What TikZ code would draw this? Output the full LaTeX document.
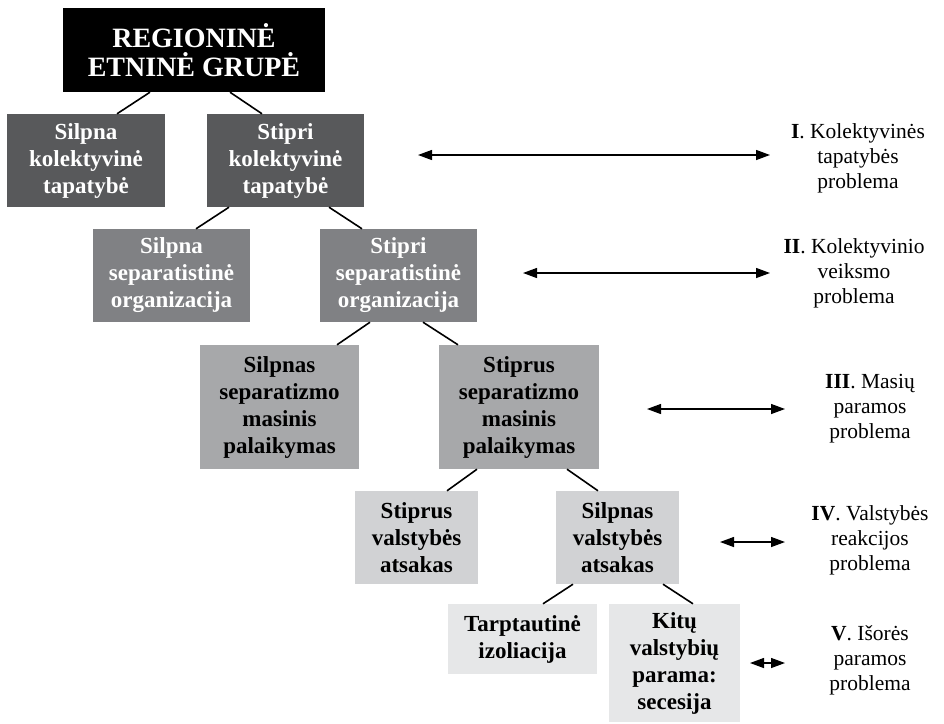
\documentclass[tikz,border=0pt]{standalone}
\usepackage{fontspec}
\setmainfont{Liberation Serif}
\usetikzlibrary{arrows.meta}
\usetikzlibrary{calc}
\definecolor{shadeone}{RGB}{88,89,91}
\definecolor{shadetwo}{RGB}{128,129,132}
\definecolor{shadethree}{RGB}{167,168,170}
\definecolor{shadefour}{RGB}{209,210,212}
\definecolor{shadefive}{RGB}{230,231,232}
\tikzset{blk/.style = {rectangle, inner sep = 0, align = center,
    font = \bfseries\fontsize{23}{27}\selectfont},
  size/.style 2 args = {minimum width = #1, minimum height = #2},
  top/.style = {blk, fill = black, text = white,
    font = \bfseries\fontsize{28}{29.5}\selectfont},
  lvlone/.style = {blk, fill = shadeone, text = white},
  lvltwo/.style = {blk, fill = shadetwo, text = white},
  lvlthree/.style = {blk, fill = shadethree},
  lvlfour/.style = {blk, fill = shadefour},
  lvlfive/.style = {blk, fill = shadefive},
  conn/.style = {line width = 1.6pt},
  twoway/.style = {line width = 1.3pt,
    {Triangle[length = 14pt, width = 10pt]}-{Triangle[length = 14pt, width = 10pt]}},
  problem/.style = {align = center, inner sep = 0,
    font = \fontsize{21.5}{25}\selectfont}}
\begin{document}
\begin{tikzpicture}[x = 1pt, y = -1pt]
      \useasboundingbox (0, 0) rectangle (944, 723);

      \node [top, size = {262pt}{84pt}] (grp) at (194, 50) {REGIONINĖ\\ETNINĖ GRUPĖ};

      \node [lvlone, size = {158pt}{93pt}] (kolsilp) at (86, 160.5) {Silpna\\kolektyvinė\\tapatybė};
      \node [lvlone, size = {157pt}{93pt}] (kolstip) at (285.5, 160.5) {Stipri\\kolektyvinė\\tapatybė};

      \node [lvltwo, size = {157pt}{93pt}] (orgsilp) at (171.5, 275.5) {Silpna\\separatistinė\\organizacija};
      \node [lvltwo, size = {157pt}{93pt}] (orgstip) at (398.5, 275.5) {Stipri\\separatistinė\\organizacija};

      \node [lvlthree, size = {159pt}{124pt}] (massilp) at (279.5, 407) {Silpnas\\separatizmo\\masinis\\palaikymas};
      \node [lvlthree, size = {160pt}{124pt}] (masstip) at (519, 407) {Stiprus\\separatizmo\\masinis\\palaikymas};

      \node [lvlfour, size = {123pt}{93pt}] (valstip) at (416.5, 537.5) {Stiprus\\valstybės\\atsakas};
      \node [lvlfour, size = {123pt}{93pt}] (valsilp) at (617.5, 537.5) {Silpnas\\valstybės\\atsakas};

      \node [lvlfive, size = {149pt}{70pt}] (izol) at (522.5, 639) {Tarptautinė\\izoliacija};
      \node [lvlfive, size = {131pt}{118pt}] (secesija) at (674.5, 663) {Kitų\\valstybių\\parama:\\secesija};

      \draw [conn] ($(grp.south) + (-44, 0)$) -- ($(kolsilp.north) + (31, 0)$);
      \draw [conn] ($(grp.south) + (36, 0)$) -- ($(kolstip.north) + (-23.5, 0)$);
      \draw [conn] ($(kolstip.south) + (-56.5, 0)$) -- ($(orgsilp.north) + (24.5, 0)$);
      \draw [conn] ($(kolstip.south) + (43.5, 0)$) -- ($(orgstip.north) + (-36.5, 0)$);
      \draw [conn] ($(orgstip.south) + (-28.5, 0)$) -- ($(massilp.north) + (57.5, 0)$);
      \draw [conn] ($(orgstip.south) + (24.5, 0)$) -- ($(masstip.north) + (-61, 0)$);
      \draw [conn] ($(masstip.south) + (-42, 0)$) -- ($(valstip.north) + (30.5, 0)$);
      \draw [conn] ($(masstip.south) + (48, 0)$) -- ($(valsilp.north) + (-19.5, 0)$);
      \draw [conn] ($(valsilp.south) + (-44.5, 0)$) -- ($(izol.north) + (20.5, 0)$);
      \draw [conn] ($(valsilp.south) + (45.5, 0)$) -- ($(secesija.north) + (18.5, 0)$);

      \coordinate (pirmasl) at (418, 155);
      \coordinate (pirmasr) at (770, 155);
      \coordinate (antrasl) at (523, 273);
      \coordinate (antrasr) at (770, 273);
      \coordinate (treciasl) at (647, 409);
      \coordinate (treciasr) at (785, 409);
      \coordinate (ketvirtasl) at (720, 542);
      \coordinate (ketvirtasr) at (785, 542);
      \coordinate (penktasl) at (750, 663);
      \coordinate (penktasr) at (785, 663);
      \draw [twoway] (pirmasl) -- (pirmasr);
      \draw [twoway] (antrasl) -- (antrasr);
      \draw [twoway] (treciasl) -- (treciasr);
      \draw [twoway] (ketvirtasl) -- (ketvirtasr);
      \draw [twoway] (penktasl) -- (penktasr);

      \node [problem] (probi) at (858, 158) {\textbf{I}. Kolektyvinės\\tapatybės\\problema};
      \node [problem] (probii) at (854, 273) {\textbf{II}. Kolektyvinio\\veiksmo\\problema};
      \node [problem] (probiii) at (870, 409) {\textbf{III}. Masių\\paramos\\problema};
      \node [problem] (probiv) at (870, 540) {\textbf{IV}. Valstybės\\reakcijos\\problema};
      \node [problem] (probv) at (870, 660) {\textbf{V}. Išorės\\paramos\\problema};
    \end{tikzpicture}
\end{document}
